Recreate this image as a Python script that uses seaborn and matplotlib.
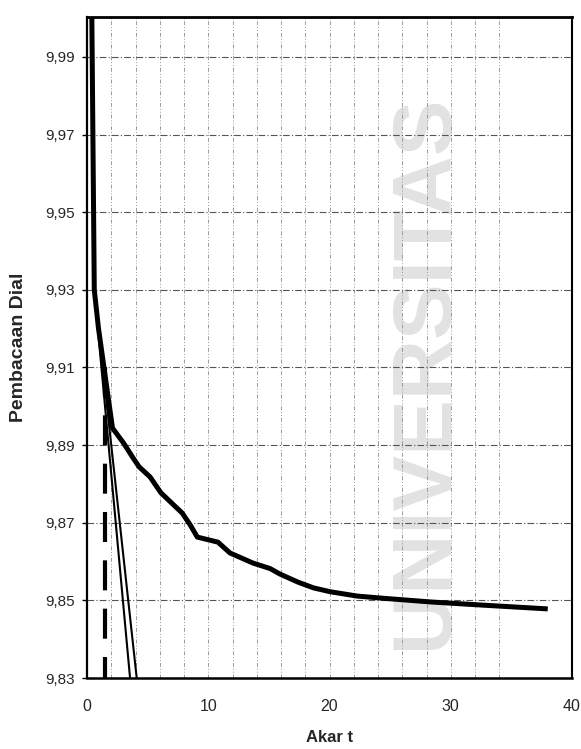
import matplotlib
matplotlib.use("Agg")
import matplotlib.pyplot as plt
from matplotlib.ticker import FixedLocator, FuncFormatter
import seaborn as sns
import pandas as pd

# Dial readings against square root of time
akar_t = [0.4, 0.6, 0.95, 1.4, 1.85, 2.1, 3.0, 3.8, 4.3, 5.2, 6.1, 7.85,
          8.5, 9.1, 10.8, 11.8, 13.7, 15.1, 15.9, 17.4, 18.7, 20.1, 22.3,
          24.2, 28.3, 32.5, 38.0]
pembacaan = [10.000, 9.930, 9.920, 9.910, 9.900, 9.8944, 9.8906, 9.8867,
             9.8844, 9.8818, 9.8777, 9.8725, 9.8695, 9.8663, 9.8650, 9.8622,
             9.8596, 9.8582, 9.8568, 9.8547, 9.8532, 9.8522, 9.8511,
             9.8506, 9.8496, 9.8488, 9.8478]

# Straight construction lines (initial slope and 1.15x abscissa)
garis_a_x = [0.6, 3.55]
garis_a_y = [9.930, 9.830]
garis_b_x = [0.6, 4.10]
garis_b_y = [9.930, 9.830]

# Vertical marker at root t90
t90_x = [1.5, 1.5]
t90_y = [9.910, 9.830]

x_ticks = [0, 10, 20, 30, 40]
y_ticks = [9.83, 9.85, 9.87, 9.89, 9.91, 9.93, 9.95, 9.97, 9.99]
x_grid_minor = list(range(2, 36, 2))

sns.set_style("white")
plt.rcParams["font.family"] = ["Liberation Sans", "DejaVu Sans"]

W, H = 581, 749
fig = plt.figure(figsize=(W / 100, H / 100), dpi=100)
fig.patch.set_facecolor("white")
ax = fig.add_axes([87 / W, 1 - 678 / H, (572 - 87) / W, (678 - 17) / H])
ax.set_facecolor("none")

# faint watermark behind the plot
fig.text(425 / W, 1 - 372 / H, "UNIVERSITAS", rotation=90, fontsize=60,
         fontweight="bold", color="#e2e2e2", ha="center", va="center",
         zorder=-5)

df_curve = pd.DataFrame({"akar_t": akar_t, "pembacaan": pembacaan})
sns.lineplot(data=df_curve, x="akar_t", y="pembacaan", sort=False,
             estimator=None, color="black", linewidth=3.6, ax=ax,
             solid_joinstyle="round", solid_capstyle="butt", zorder=4)
sns.lineplot(x=garis_a_x, y=garis_a_y, sort=False, estimator=None,
             color="black", linewidth=1.5, ax=ax, zorder=3)
sns.lineplot(x=garis_b_x, y=garis_b_y, sort=False, estimator=None,
             color="black", linewidth=1.5, ax=ax, zorder=3)
sns.lineplot(x=t90_x, y=t90_y, sort=False, estimator=None, color="black",
             linewidth=3.0, linestyle=(0, (7.2, 4.4)), ax=ax, zorder=3)

ax.set_xlim(0, 40)
ax.set_ylim(9.83, 10.0003)
ax.xaxis.set_major_locator(FixedLocator(x_ticks))
ax.xaxis.set_minor_locator(FixedLocator(x_grid_minor))
ax.yaxis.set_major_locator(FixedLocator(y_ticks))
ax.yaxis.set_major_formatter(FuncFormatter(lambda v, p: f"{v:.2f}".replace(".", ",")))
ax.xaxis.set_major_formatter(FuncFormatter(lambda v, p: f"{v:.0f}"))

ax.grid(True, axis="y", which="major", color="#555555", linewidth=0.8,
        linestyle=(0, (6, 2, 1, 2)))
ax.grid(True, axis="x", which="both", color="#9a9a9a", linewidth=0.7,
        linestyle=(0, (4, 2, 1, 2, 1, 2)))
ax.set_axisbelow(True)

ax.tick_params(axis="y", which="major", direction="out", length=3.6,
               width=1.0, color="black", pad=5, labelsize=11, left=True)
ax.tick_params(axis="x", which="both", length=0, pad=15, labelsize=11.5)

for side, lw in [("top", 2.0), ("left", 1.6), ("right", 1.5), ("bottom", 1.8)]:
    ax.spines[side].set_visible(True)
    ax.spines[side].set_color("black")
    ax.spines[side].set_linewidth(lw)
    ax.spines[side].set_zorder(6)

ax.set_xlabel("Akar t", fontsize=12, fontweight="bold", labelpad=12)
ax.set_ylabel("Pembacaan Dial", fontsize=14, fontweight="bold", labelpad=13)

fig.savefig("out.png", dpi=100, facecolor="white")
